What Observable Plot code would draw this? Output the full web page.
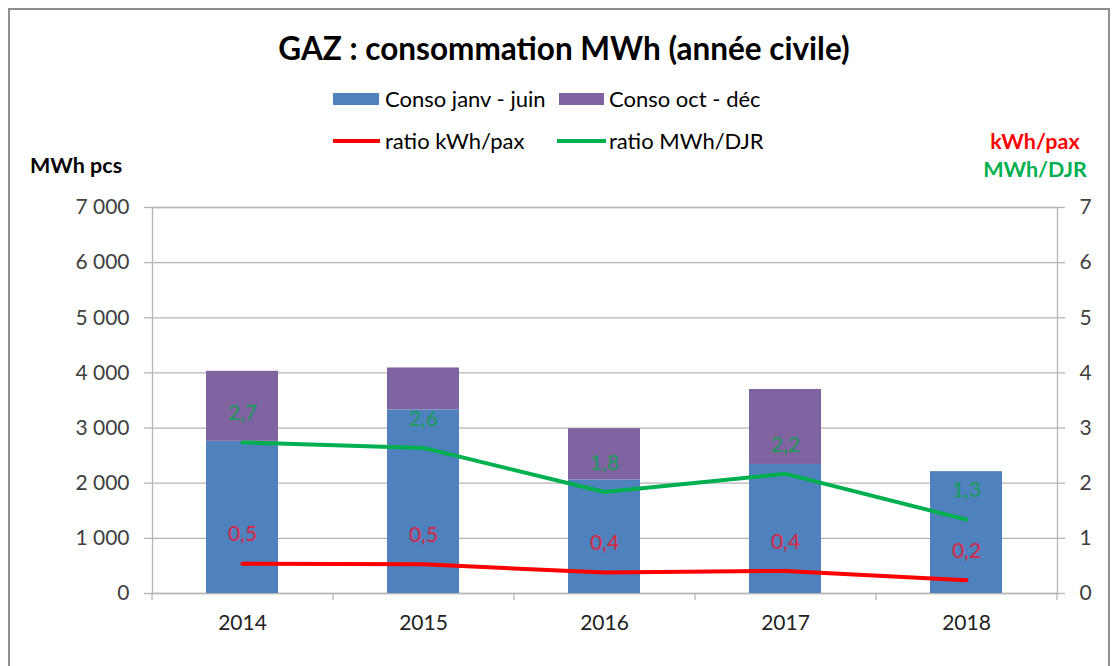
<!DOCTYPE html>
<html>
<head>
<meta charset="utf-8">
<script src="https://cdn.jsdelivr.net/npm/d3@7"></script>
<script src="https://cdn.jsdelivr.net/npm/@observablehq/plot@0.6"></script>
<style>
  html, body { margin: 0; padding: 0; background: #fff; }
  body { width: 1116px; height: 666px; overflow: hidden; position: relative; font-family: Lato, "Open Sans", sans-serif; }
  #border { position: absolute; left: 8px; top: 8px; width: 1102px; height: 700px; border: 2px solid #8f8f8f; box-sizing: border-box; }
  #header { position: relative; height: 190px; }
  .abs { position: absolute; white-space: nowrap; }
  #title { left: 0; width: 1128px; text-align: center; top: 28px; line-height: 40px; font-size: 31.5px; font-weight: bold; color: #000; }
  .leg { font-size: 22px; line-height: 26px; color: #000; }
  .sw { position: absolute; }
  .axl { font-size: 21.5px; line-height: 26px; font-weight: bold; }
  #chart { position: absolute; left: 0; top: 190px; }
</style>
</head>
<body>
<div id="border"></div>
<div id="header">
  <div id="title" class="abs">GAZ : consommation MWh (année civile)</div>
  <div class="sw" style="left:333px;top:93px;width:46px;height:12px;background:#4f81bd"></div>
  <div class="abs leg" style="left:385px;top:86px">Conso janv - juin</div>
  <div class="sw" style="left:559px;top:93px;width:45px;height:12px;background:#8064a2"></div>
  <div class="abs leg" style="left:609px;top:86px">Conso oct - déc</div>
  <div class="sw" style="left:333px;top:139px;width:47px;height:4px;background:#ff0000"></div>
  <div class="abs leg" style="left:385px;top:128px">ratio kWh/pax</div>
  <div class="sw" style="left:557px;top:139px;width:49px;height:4px;background:#00b050"></div>
  <div class="abs leg" style="left:609px;top:128px">ratio MWh/DJR</div>
  <div class="abs axl" style="left:30px;top:152px;color:#000">MWh pcs</div>
  <div class="abs axl" style="left:975px;width:120px;text-align:center;top:128px;color:#ff0000">kWh/pax</div>
  <div class="abs axl" style="left:975px;width:120px;text-align:center;top:156px;color:#00b050">MWh/DJR</div>
</div>
<div id="chart"></div>
<script>
// ---- data ----
const years = ["2014", "2015", "2016", "2017", "2018"];
const consoJanvJuin = [2760, 3330, 2060, 2340, 2210];
const consoOctDec = [1270, 760, 930, 1360, 0];
const ratioKwhPax = [0.54, 0.53, 0.38, 0.41, 0.24];
const ratioMwhDjr = [2.74, 2.64, 1.84, 2.17, 1.34];
const leftTicks = [0, 1000, 2000, 3000, 4000, 5000, 6000, 7000];
const rightTicks = [0, 1, 2, 3, 4, 5, 6, 7];
const seriesNames = ["Conso janv - juin", "Conso oct - déc"];
const seriesColors = ["#4f81bd", "#8064a2"];

// ---- build tables ----
const bars = [];
years.forEach((y, i) => {
  bars.push({year: y, series: seriesNames[0], value: consoJanvJuin[i]});
  bars.push({year: y, series: seriesNames[1], value: consoOctDec[i]});
});
const ratios = years.map((y, i) => ({year: y, pax: ratioKwhPax[i], djr: ratioMwhDjr[i]}));

const W = 1116, H = 453, mL = 152, mR = 59, mT = 17, mB = 50;
const halfStep = (W - mL - mR) / years.length / 2;
const RIGHT_FACTOR = 1000; // right axis 0..7 mapped onto left 0..7000
const fmtLeft = d => d3.format(",")(d).replace(/,/g, " ");
const fmtDec = d => d.toFixed(1).replace(".", ",");
const grid = "#b5b5b5";
const tickText = "#404040";

const chart = Plot.plot({
  width: W, height: H,
  marginLeft: mL, marginRight: mR, marginTop: mT, marginBottom: mB,
  style: {fontFamily: "Lato, 'Open Sans', sans-serif", background: "transparent", overflow: "visible"},
  x: {type: "band", domain: years, paddingInner: 0.6, paddingOuter: 0.3, axis: null},
  y: {domain: [0, 7000], axis: null},
  color: {domain: seriesNames, range: seriesColors},
  marks: [
    Plot.gridY(leftTicks, {stroke: grid, strokeOpacity: 1, strokeWidth: 1.3}),
    Plot.frame({stroke: grid, strokeWidth: 1.3}),
    Plot.axisY(leftTicks, {anchor: "left", label: null, tickSize: 8, tickPadding: 15, tickFormat: fmtLeft,
      stroke: grid, strokeWidth: 1.3, fill: tickText, fontSize: 21}),
    Plot.axisY(rightTicks.map(d => d * RIGHT_FACTOR), {anchor: "right", label: null, tickSize: 7, tickPadding: 15,
      tickFormat: d => d / RIGHT_FACTOR, stroke: grid, strokeWidth: 1.3, fill: tickText, fontSize: 21}),
    Plot.axisX(years, {anchor: "bottom", label: null, tickSize: 7, tickPadding: 0, tickFormat: () => "", dx: halfStep,
      stroke: grid, strokeWidth: 1.3}),
    Plot.axisX([years[0]], {anchor: "bottom", label: null, tickSize: 7, tickPadding: 0, tickFormat: () => "", dx: -halfStep,
      stroke: grid, strokeWidth: 1.3}),
    Plot.axisX(years, {anchor: "bottom", label: null, tickSize: 0, tickPadding: 22, fill: "#222", fontSize: 21}),
    Plot.barY(bars, {x: "year", y: "value", fill: "series"}),
    Plot.line(ratios, {x: "year", y: d => d.djr * RIGHT_FACTOR, stroke: "#00b050", strokeWidth: 4}),
    Plot.line(ratios, {x: "year", y: d => d.pax * RIGHT_FACTOR, stroke: "#ff0000", strokeWidth: 4}),
    Plot.text(ratios, {x: "year", y: d => d.djr * RIGHT_FACTOR, text: d => fmtDec(d.djr), dy: -29,
      fill: "#1a9c58", fontSize: 21}),
    Plot.text(ratios, {x: "year", y: d => d.pax * RIGHT_FACTOR, text: d => fmtDec(d.pax), dy: -29,
      fill: "#dc2640", fontSize: 21})
  ]
});
document.getElementById("chart").appendChild(chart);
</script>
</body>
</html>
